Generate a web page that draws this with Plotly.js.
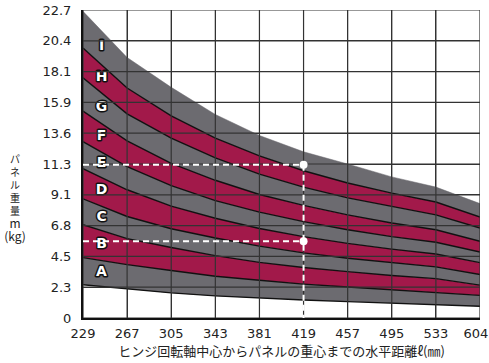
<!DOCTYPE html>
<html>
<head>
<meta charset="utf-8">
<script src="https://cdn.plot.ly/plotly-3.0.1.min.js"></script>
<style>
  html, body { margin: 0; padding: 0; background: #ffffff; }
  #chart { width: 489px; height: 363px; }
</style>
</head>
<body>
<div id="chart"></div>
<script>
// ---- Data ----
const xLabels = ["229", "267", "305", "343", "381", "419", "457", "495", "533", "604"];
const yTickLabels = ["0", "2.3", "4.5", "6.8", "9.1", "11.3", "13.6", "15.9", "18.1", "20.4", "22.7"];
const yMax = 22.7;

// Band boundaries (kg), bottom to top
const boundaryA0 = [2.45, 2.15, 1.85, 1.63, 1.47, 1.33, 1.21, 1.10, 1.00, 0.87];   // bottom of A
const boundaryAB = [4.45, 3.93, 3.50, 3.08, 2.78, 2.50, 2.28, 2.08, 1.88, 1.67];
const boundaryBC = [6.88, 5.85, 5.20, 4.60, 4.10, 3.72, 3.42, 3.13, 2.90, 2.42];
const boundaryCD = [8.78, 7.48, 6.58, 5.90, 5.30, 4.80, 4.40, 4.06, 3.77, 3.20];
const boundaryDE = [11.0, 9.45, 8.25, 7.35, 6.60, 6.00, 5.50, 5.08, 4.72, 4.08];
const boundaryEF = [13.0, 11.15, 9.75, 8.65, 7.80, 7.10, 6.50, 6.00, 5.58, 4.86];
const boundaryFG = [15.25, 13.05, 11.40, 10.15, 9.10, 8.30, 7.60, 7.00, 6.50, 5.65];
const boundaryGH = [17.7, 15.05, 13.25, 11.80, 10.60, 9.65, 8.85, 8.20, 7.60, 6.63];
const boundaryHI = [19.9, 16.95, 14.90, 13.25, 11.95, 10.85, 9.95, 9.20, 8.55, 7.44];
const boundaryTop = [22.6, 19.2, 17.0, 15.0, 13.45, 12.25, 11.35, 10.40, 9.65, 8.43];

const bandNames = ["A", "B", "C", "D", "E", "F", "G", "H", "I"];

// Worked example: distance 419 mm
const exampleDistance = "419";
const exampleWeights = [11.3, 5.65];

// Axis titles
const xTitle = "ヒンジ回転軸中心からパネルの重心までの水平距離ℓ(㎜)";
const yTitleLines = ["パ", "ネ", "ル", "重", "量", "m", "(kg)"];

// ---- Styles / geometry ----
const GRAY = "#6c6b70";
const CRIMSON = "#a2194a";
const GRIDC = "#333333";
const TEXTC = "#222222";
const W = 489, H = 363, ML = 83, MR = 9, MT = 10, MB = 45;

const boundaries = [boundaryA0, boundaryAB, boundaryBC, boundaryCD, boundaryDE,
                    boundaryEF, boundaryFG, boundaryGH, boundaryHI, boundaryTop];
const xIdx = xLabels.map((_, i) => i);
const xLast = xIdx[xIdx.length - 1];
const yStep = yMax / (yTickLabels.length - 1);
const yTickVals = yTickLabels.map((_, i) => i * yStep);

const traces = [];
boundaries.forEach((b, k) => {
  const isTop = k === boundaries.length - 1;
  traces.push({
    type: "scatter", mode: "lines", x: xIdx, y: b,
    line: { color: isTop ? GRAY : "#111111", width: isTop ? 0.5 : 1.4 },
    fill: k === 0 ? "none" : "tonexty",
    fillcolor: k === 0 ? undefined : (k % 2 === 1 ? GRAY : CRIMSON),
    hoverinfo: "skip", showlegend: false
  });
});

// Band letters (text trace) at the middle of each band near the left edge
const lx = 0.42;
function interp(arr, x) { const i = Math.floor(x); const t = x - i; return arr[i] + (arr[i + 1] - arr[i]) * t; }
traces.push({
  type: "scatter", mode: "text",
  x: bandNames.map(() => lx),
  y: bandNames.map((_, k) => (interp(boundaries[k], lx) + interp(boundaries[k + 1], lx)) / 2 + 0.08),
  text: bandNames.map(n => "<b>" + n + "</b>"), textposition: "middle center",
  textfont: { family: "DejaVu Sans", size: 14, color: "#ffffff" },
  hoverinfo: "skip", showlegend: false
});

// last x tick label nudged left (figure space) so it stays inside the page
const xTickText = xLabels.map((t, i) => i === xLast ? t + "\u2007" : t);

// Grid lines above the bands
const shapes = [];
xIdx.forEach(function (i) {
  shapes.push({ type: "line", xref: "x", yref: "y", x0: i, x1: i, y0: 0, y1: yMax,
    layer: "above", line: { color: GRIDC, width: 1.2 } });
});
yTickVals.forEach(function (v) {
  shapes.push({ type: "line", xref: "x", yref: "y", x0: 0, x1: xLast, y0: v, y1: v,
    layer: "above", line: { color: GRIDC, width: 1.2 } });
});
// Example dashed guides and points
const ex = xLabels.indexOf(exampleDistance);
exampleWeights.forEach(w => shapes.push({ type: "line", xref: "x", yref: "y", x0: 0, x1: ex, y0: w, y1: w,
  layer: "above", line: { color: "#ffffff", width: 2, dash: "6px,4px" } }));
shapes.push({ type: "line", xref: "x", yref: "y", x0: ex, x1: ex, y0: Math.max(...exampleWeights), y1: 0,
  layer: "above", line: { color: "#ffffff", width: 2, dash: "6px,4px" } });
exampleWeights.forEach(w => shapes.push({ type: "circle", xref: "x", yref: "y",
  xsizemode: "pixel", ysizemode: "pixel", xanchor: ex, yanchor: w, x0: -4, x1: 4, y0: -4, y1: 4,
  layer: "above", fillcolor: "#ffffff", line: { width: 0 } }));

// Y title as the layout title, stacked vertically at the left
const yTitleText = yTitleLines.map((t, i) => i < 5 ? t : "<span style=\"font-size:12px\">" + t + "</span>").join("<br>");

const layout = {
  width: W, height: H,
  margin: { l: ML, r: MR, t: MT, b: MB, pad: 0 },
  paper_bgcolor: "#ffffff", plot_bgcolor: "#ffffff",
  showlegend: false,
  title: {
    text: yTitleText, xref: "container", yref: "container",
    x: 15 / W, y: 1 - 163 / H, xanchor: "center", yanchor: "middle",
    font: { family: "Noto Sans CJK JP, DejaVu Sans", size: 10, color: TEXTC }
  },
  xaxis: {
    range: [0, xLast], tickvals: xIdx, ticktext: xTickText,
    showgrid: true, gridcolor: GRIDC, gridwidth: 1, zeroline: false,
    showline: true, linecolor: "#111111", linewidth: 2,
    ticks: "outside", ticklen: 2, tickcolor: "rgba(0,0,0,0)", ticklabeloverflow: "allow",
    tickfont: { family: "DejaVu Sans", size: 13, color: TEXTC },
    title: { text: xTitle + "\u3000", standoff: 6,
             font: { family: "Noto Sans CJK JP", size: 13, color: TEXTC } }
  },
  yaxis: {
    range: [0, yMax], tickvals: yTickVals, ticktext: yTickLabels,
    showgrid: true, gridcolor: GRIDC, gridwidth: 1, zeroline: false,
    showline: true, linecolor: "#111111", linewidth: 2,
    ticks: "outside", ticklen: 7, tickcolor: "rgba(0,0,0,0)",
    tickfont: { family: "DejaVu Sans", size: 13, color: TEXTC }
  },
  shapes: shapes
};

Plotly.newPlot("chart", traces, layout, { staticPlot: true, displayModeBar: false }).then(function () {
  // dark outline around the white band letters
  document.querySelectorAll(".textpoint text").forEach(function (el) {
    if (bandNames.indexOf(el.textContent) >= 0) {
      el.setAttribute("stroke", "#111111");
      el.setAttribute("stroke-width", "3");
      el.setAttribute("stroke-linejoin", "round");
      el.setAttribute("paint-order", "stroke");
      el.style.stroke = "#111111";
      el.style.strokeWidth = "3px";
      el.style.paintOrder = "stroke";
    }
  });
});
</script>
</body>
</html>
